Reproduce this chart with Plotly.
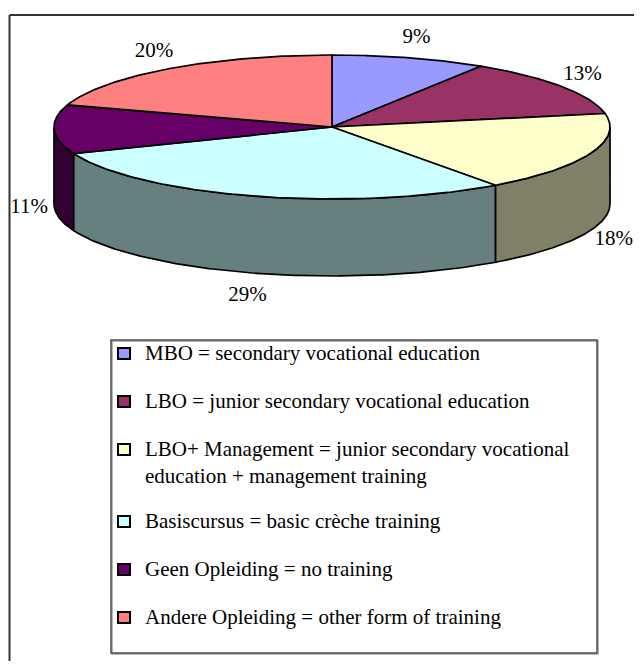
import numpy as np
import plotly.graph_objects as go

# ---- data ----
categories = [
    "MBO = secondary vocational education",
    "LBO = junior secondary vocational education",
    "LBO+ Management = junior secondary vocational<br>education + management training",
    "Basiscursus = basic crèche training",
    "Geen Opleiding = no training",
    "Andere Opleiding = other form of training",
]
values = [9, 13, 18, 29, 11, 20]
pct_labels = ["9%", "13%", "18%", "29%", "11%", "20%"]
top_colors = ["#9999FF", "#993366", "#FFFFCC", "#CCFFFF", "#660066", "#FF8080"]
side_colors = ["#4C4C80", "#4C1933", "#808066", "#668080", "#330033", "#804040"]

# ---- geometry / style (page pixel coordinates) ----
PAGE_W, PAGE_H = 642, 669
BODY = 8  # default page margin around the figure
W, H = PAGE_W - 2 * BODY, PAGE_H - 2 * BODY
CX, CY, RX, RY, DEPTH = 332, 127, 278, 72, 77
FONT = "Liberation Serif"
FS = 21

fig = go.Figure()

total = sum(values)
cum = np.concatenate([[0], np.cumsum(values)]) / total
a_start = 90 - 360 * cum[:-1]
a_end = 90 - 360 * cum[1:]


def arc(lo, hi, n=120):
    t = np.radians(np.linspace(lo, hi, n))
    return CX + RX * np.cos(t), CY - RY * np.sin(t)


# side faces (front half only)
for i in range(len(values)):
    a1, a2 = a_start[i], a_end[i]
    for k in (-1, 0, 1):
        lo = max(a2, -180 + 360 * k)
        hi = min(a1, 0 + 360 * k)
        if hi > lo:
            x, y = arc(lo, hi)
            xs = np.concatenate([x, x[::-1], [x[0]]])
            ys = np.concatenate([y, y[::-1] + DEPTH, [y[0]]])
            fig.add_trace(go.Scatter(
                x=xs, y=ys, mode="lines", fill="toself",
                fillcolor=side_colors[i], line=dict(color="black", width=1.7),
                hoverinfo="skip", showlegend=False))

# top faces
for i in range(len(values)):
    x, y = arc(a_end[i], a_start[i])
    xs = np.concatenate([[CX], x, [CX]])
    ys = np.concatenate([[CY], y, [CY]])
    fig.add_trace(go.Scatter(
        x=xs, y=ys, mode="lines", fill="toself",
        fillcolor=top_colors[i], line=dict(color="black", width=1.7),
        hoverinfo="skip", showlegend=False, name=categories[i]))

# percentage labels
mid = np.radians((a_start + a_end) / 2)
OFFX, OFFY = 25, 22
lx = CX + (RX + OFFX) * np.cos(mid)
ly = CY - (RY + OFFY) * np.sin(mid) + np.where(np.sin(mid) < 0, DEPTH, 0) + 1
fig.add_trace(go.Scatter(
    x=lx, y=ly, mode="text", text=pct_labels,
    textfont=dict(family=FONT, size=FS, color="black"),
    hoverinfo="skip", showlegend=False))

# ---- legend (drawn) ----
shapes = [
    dict(type="line", x0=9.5, y0=15, x1=9.5, y1=PAGE_H + 10, xref="x", yref="y",
         line=dict(color="#333333", width=2)),
    dict(type="line", x0=9.5, y0=15, x1=PAGE_W + 10, y1=15, xref="x", yref="y",
         line=dict(color="#333333", width=2)),
    dict(type="rect", x0=112, y0=341, x1=598, y1=654, xref="x", yref="y",
         line=dict(color="#a0a0a0", width=1.5), fillcolor="rgba(0,0,0,0)"),
    dict(type="rect", x0=111, y0=340, x1=597, y1=653, xref="x", yref="y",
         line=dict(color="#4d4d4d", width=1.5), fillcolor="rgba(0,0,0,0)"),
]
annotations = []
y = 353
for i, name in enumerate(categories):
    nlines = name.count("<br>") + 1
    shapes.append(dict(type="rect", x0=118, x1=130, y0=y - 5, y1=y + 6,
                       xref="x", yref="y", fillcolor=top_colors[i],
                       line=dict(color="black", width=2)))
    annotations.append(dict(
        x=143, y=y - 14, xref="x", yref="y", text=name, showarrow=False,
        xanchor="left", yanchor="top", align="left",
        font=dict(family=FONT, size=FS, color="black")))
    y += 48 + 24 * (nlines - 1)

fig.update_layout(
    width=W, height=H,
    margin=dict(l=0, r=0, t=0, b=0),
    paper_bgcolor="white", plot_bgcolor="white",
    xaxis=dict(range=[BODY, BODY + W], visible=False, fixedrange=True),
    yaxis=dict(range=[BODY + H, BODY], visible=False, fixedrange=True),
    shapes=shapes, annotations=annotations,
    showlegend=False,
)

fig.write_html("out.html")
